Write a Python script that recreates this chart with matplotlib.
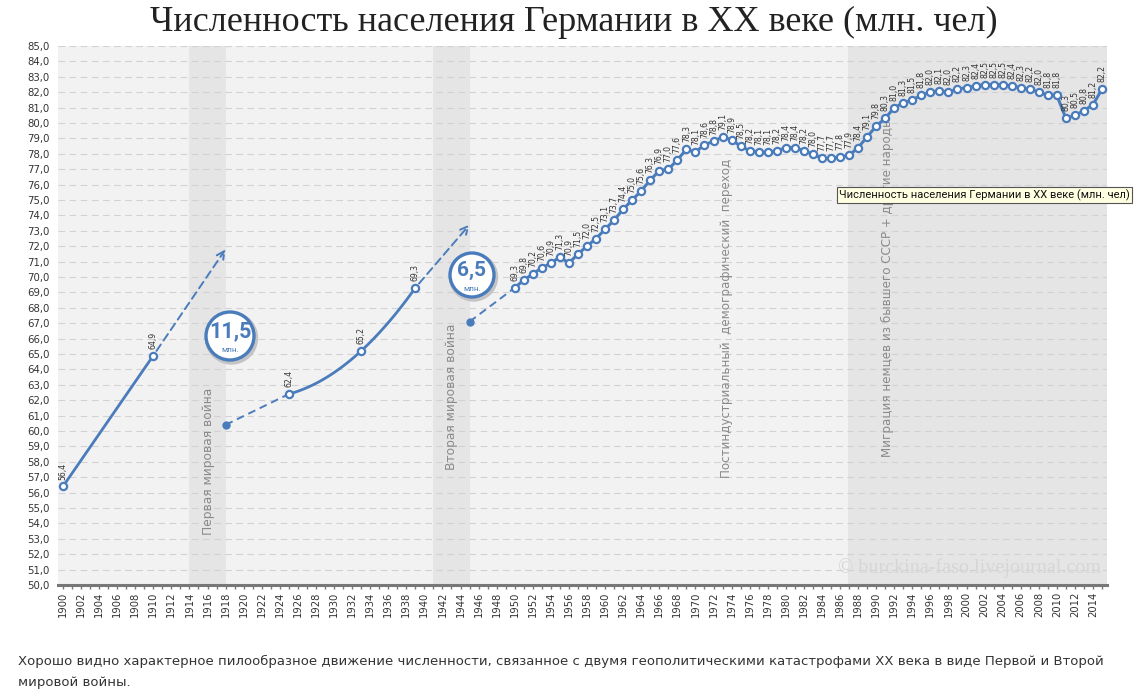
"""
Численность населения Германии в XX веке
"""

import numpy as np
import matplotlib
matplotlib.use("Agg")
import matplotlib.pyplot as plt
from matplotlib.patches import Ellipse

# ── Data ───────────────────────────────────────────────────────────────────
early_years = [1900, 1910]
early_pop = [56.4, 64.9]

inter_years = [1925, 1933, 1939]
inter_pop = [62.4, 65.2, 69.3]

# post-war estimates (filled dots, not labelled)
war_years = [1918, 1945]
war_pop = [60.4, 67.1]

# where the pre-war trend would have gone (dashed arrows)
trend_years = [1918, 1945]
trend_pop = [71.8, 73.4]

years = list(range(1950, 2016))
pop = [69.3, 69.8, 70.2, 70.6, 70.9, 71.3, 70.9, 71.5, 72.0, 72.5,
       73.1, 73.7, 74.4, 75.0, 75.6, 76.3, 76.9, 77.0, 77.6, 78.3,
       78.1, 78.6, 78.8, 79.1, 78.9, 78.5, 78.2, 78.1, 78.1, 78.2,
       78.4, 78.4, 78.2, 78.0, 77.7, 77.7, 77.8, 77.9, 78.4, 79.1,
       79.8, 80.3, 81.0, 81.3, 81.5, 81.8, 82.0, 82.1, 82.0, 82.2,
       82.3, 82.4, 82.5, 82.5, 82.5, 82.4, 82.3, 82.2, 82.0, 81.8,
       81.8, 80.3, 80.5, 80.8, 81.2, 82.2]

losses = ["11,5", "6,5"]

bands = [(1914, 1918), (1940.9, 1945), (1986.9, 2016)]
band_texts = ["Первая мировая война", "Вторая мировая война",
              "Постиндустриальный  демографический  переход",
              "Миграция немцев из бывшего СССР + другие народы"]

TITLE = "Численность населения Германии в XX веке (млн. чел)"
CAPTION = ("Хорошо видно характерное пилообразное движение численности, связанное с "
           "двумя геополитическими катастрофами XX века в виде Первой и Второй\n"
           "мировой войны.")

# ── Style ──────────────────────────────────────────────────────────────────
BLUE = "#4a7cbc"
PANEL = "#f2f2f2"
BAND = "#e5e5e5"
GRID = "#d2d2d2"
TXT = "#333333"
W, H = 1148, 692


def fmt(v):
    return f"{v:.1f}".replace(".", ",")


fig = plt.figure(figsize=(W / 100, H / 100), dpi=100, facecolor="white")
ax = fig.add_axes([0.0505, 0.1546, 0.9138, 0.7789])
ax.set_facecolor(PANEL)
ax.set_xlim(1899.45, 2015.55)
ax.set_ylim(50, 85)

for a, b in bands:
    ax.axvspan(a, b, color=BAND, lw=0, zorder=0)

ax.set_yticks(np.arange(50, 86, 1))
ax.set_yticklabels([fmt(v) for v in np.arange(50, 86, 1)], fontsize=7.3, color=TXT)
ax.yaxis.grid(True, color=GRID, ls=(0, (6, 4)), lw=0.8, zorder=1)
ax.set_xticks(np.arange(1900, 2016, 2))
ax.set_xticklabels([str(y) for y in range(1900, 2016, 2)], rotation=90,
                   fontsize=7.2, color=TXT)
ax.set_xticks(np.arange(1900, 2016, 1), minor=True)
ax.tick_params(axis="y", length=0, pad=6)
ax.tick_params(axis="x", which="both", length=3, width=1, color="#777", pad=2,
               direction="out")
for name, sp in ax.spines.items():
    sp.set_visible(name == "bottom")
ax.spines["bottom"].set_color("#777")
ax.spines["bottom"].set_linewidth(2.2)

# ── Lines ──────────────────────────────────────────────────────────────────
mk = dict(marker="o", ms=5.2, mfc="white", mec=BLUE, mew=1.6)

ax.plot(early_years, early_pop, color=BLUE, lw=2, zorder=4, **mk)

coef = np.polyfit(inter_years, inter_pop, 2)
xs = np.linspace(inter_years[0], inter_years[-1], 60)
ax.plot(xs, np.polyval(coef, xs), color=BLUE, lw=2, zorder=4)
ax.plot(inter_years, inter_pop, ls="none", zorder=5, **mk)

ax.plot(years, pop, color=BLUE, lw=2.2, zorder=4, **mk)

# dashed trend arrows
for x0, y0, x1, y1 in [(early_years[-1], early_pop[-1], trend_years[0], trend_pop[0]),
                       (inter_years[-1], inter_pop[-1], trend_years[1], trend_pop[1])]:
    ax.annotate("", xy=(x1, y1), xytext=(x0, y0),
                arrowprops=dict(arrowstyle="->", color=BLUE, lw=1.4, ls=(0, (4, 2.5)),
                                mutation_scale=14, shrinkA=4, shrinkB=0),
                zorder=3)

# dashed recovery segments
ax.plot([war_years[0], inter_years[0]], [war_pop[0], inter_pop[0]],
        color=BLUE, lw=1.4, ls=(0, (4, 2.5)), zorder=3)
ax.plot([war_years[1], years[0]], [war_pop[1], pop[0]],
        color=BLUE, lw=1.4, ls=(0, (4, 2.5)), zorder=3)
ax.plot(war_years, war_pop, ls="none", marker="o", ms=5, color=BLUE, zorder=5)

# value labels
for x, y in zip(early_years + inter_years + years, early_pop + inter_pop + pop):
    ax.annotate(fmt(y), (x, y), xytext=(0, 5), textcoords="offset points",
                rotation=90, ha="center", va="bottom", fontsize=5.6, color=TXT,
                zorder=6)

# ── Loss bubbles ───────────────────────────────────────────────────────────
for (cx, cy), txt, r, fs in zip([(230, 336), (472, 275)], losses, [26, 24], [15.5, 15]):
    fx, fy = cx / W, 1 - cy / H
    fig.patches.append(Ellipse((fx + 1.5 / W, fy - 2 / H), 2 * r / W, 2 * r / H,
                               transform=fig.transFigure, color="#c4c4c4",
                               zorder=7))
    fig.patches.append(Ellipse((fx, fy), 2 * (r - 2) / W, 2 * (r - 2) / H,
                               transform=fig.transFigure, facecolor="white",
                               edgecolor=BLUE, lw=2.4, zorder=8))
    fig.text(fx, fy + 5 / H, txt, ha="center", va="center", fontsize=fs,
             fontweight="bold", color=BLUE, family="Roboto", zorder=9)
    fig.text(fx, fy - 14 / H, "млн.", ha="center", va="center", fontsize=6,
             color=BLUE, family="Roboto", zorder=9)

# ── Vertical notes ─────────────────────────────────────────────────────────
for x, ybot, fs, txt in zip([1916.1, 1943, 1973.4, 1991.2],
                            [53.25, 57.5, 56.95, 58.3],
                            [8.8, 8.8, 8.6, 8.6], band_texts):
    ax.text(x, ybot, txt, rotation=90, ha="center", va="bottom", fontsize=fs,
            color="#8a8a8a", zorder=2)

ax.text(2014.9, 51.1, "© burckina-faso.livejournal.com", ha="right", va="center",
        fontsize=14.5, color="#d6d6d6", family="Liberation Serif", zorder=2)

# tooltip left over from the original page
fig.text(839 / W, 1 - 195 / H, TITLE, ha="left", va="center", fontsize=8,
         color="#111", zorder=10, family="Roboto",
         bbox=dict(boxstyle="square,pad=0.2", fc="#ffffe1", ec="#555", lw=0.8))

fig.text(0.5, 1 - 22 / H, TITLE, ha="center", va="center", fontsize=26,
         family="Liberation Serif", color="#222")
fig.text(18 / W, 1 - 672 / H, CAPTION, ha="left", va="center", fontsize=9.5,
         color="#333", linespacing=1.75)

plt.savefig("out.png", dpi=100, facecolor="white")
